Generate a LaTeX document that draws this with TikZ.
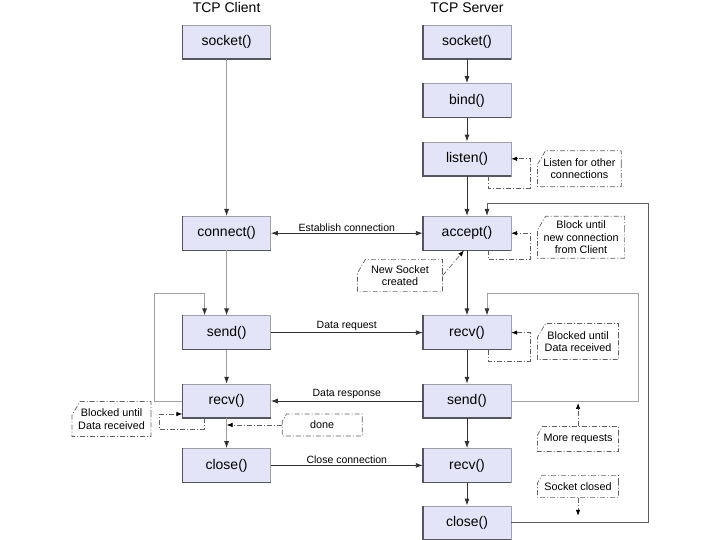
\documentclass[tikz,border=0pt]{standalone}
\usepackage{fontspec}
\setmainfont{Liberation Sans}
\usetikzlibrary{
  arrows.meta,
  positioning,
  shapes.misc,
  calc
}
\definecolor{boxfill}{RGB}{228,228,248}
\definecolor{boxline}{RGB}{160,160,170}
\definecolor{boxshade}{RGB}{85,85,95}
\definecolor{linedark}{RGB}{50,50,50}
\definecolor{linemid}{RGB}{95,95,95}
\definecolor{linelight}{RGB}{160,160,160}
\definecolor{notegray}{RGB}{95,95,95}

\begin{document}
\begin{tikzpicture}[
            fn/.style={draw=boxline, fill=boxfill, minimum width=88bp, minimum height=34bp, inner sep=0pt, font=\fontsize{14bp}{16bp}\selectfont},
            ttl/.style={inner sep=0pt, font=\fontsize{14bp}{16bp}\selectfont},
            msg/.style={inner sep=1.5bp, font=\fontsize{10.5bp}{12bp}\selectfont},
            memo/.style={draw=notegray, line width=0.7bp, dash pattern=on 5bp off 2bp on 1bp off 2bp, chamfered rectangle, chamfered rectangle corners=north west, chamfered rectangle angle=30, chamfered rectangle xsep=6bp, align=center, inner sep=0pt, font=\fontsize{10.8bp}{12.3bp}\selectfont},
            boxedge/.style={draw=boxshade, line width=1.4bp},
            dk/.style={draw=linedark, line width=0.9bp, -{Latex[length=7bp,width=5bp]}},
            dkm/.style={draw=linemid, line width=0.9bp, -{Latex[length=7bp,width=5bp,color=linedark]}},
            lt/.style={draw=linelight, line width=0.8bp, -{Latex[length=7bp,width=5bp,color=linedark]}},
            na/.style={draw=notegray, line width=0.7bp, dash pattern=on 5bp off 2bp on 1bp off 2bp, -{Latex[length=6bp,width=4.5bp,color=black]}}
        ]
            \useasboundingbox (0,0) rectangle (720bp,-540bp);
            % server side
            \node[fn] (ssock) at (467bp,-42bp) {socket()};
            \node[fn, below=24bp of ssock] (sbind) {bind()};
            \node[fn, below=24bp of sbind] (slisten) {listen()};
            \node[fn, below=40bp of slisten] (saccept) {accept()};
            \node[fn, below=65bp of saccept] (srecv) {recv()};
            \node[fn, below=34bp of srecv] (ssend) {send()};
            \node[fn, below=30bp of ssend] (srecvb) {recv()};
            \node[fn, below=23bp of srecvb] (sclose) {close()};
            % client side
            \node[fn, left=152bp of ssock] (csock) {socket()};
            \node[fn, left=152bp of saccept] (cconn) {connect()};
            \node[fn, left=152bp of srecv] (csend) {send()};
            \node[fn, left=152bp of ssend] (crecv) {recv()};
            \node[fn, left=152bp of srecvb] (cclose) {close()};
            \node[ttl, above=12bp of csock] (tcli) {TCP Client};
            \node[ttl, above=12bp of ssock] (tsrv) {TCP Server};
            \foreach \b in {ssock,sbind,slisten,saccept,srecv,ssend,srecvb,sclose,csock,cconn,csend,crecv,cclose}
              \draw[boxedge] (\b.north west) -- (\b.south west) -- (\b.south east);

            % notes
            \node[memo, minimum width=81bp, minimum height=36bp, right=26bp of slisten, yshift=-10bp] (nlisten) {Listen for other\\connections};
            \node[memo, minimum width=81bp, minimum height=42bp, right=26bp of saccept, yshift=-4bp] (naccept) {Block until\\new connection\\from Client};
            \node[memo, minimum width=81bp, minimum height=36bp, right=26bp of srecv, yshift=-9bp] (nrecv) {Blocked until\\Data received};
            \node[memo, minimum width=81bp, minimum height=25bp, right=26bp of ssend, yshift=-38bp] (nmore) {More requests};
            \node[memo, minimum width=81bp, minimum height=22bp, right=26bp of srecvb, yshift=-21bp] (nclosed) {Socket closed};
            \node[memo, minimum width=85bp, minimum height=32bp] (nsock) at ($(saccept.south)+(-67bp,-25bp)$) {New Socket\\created};
            \node[memo, minimum width=79bp, minimum height=35bp, left=31bp of crecv, yshift=-18bp] (ncrecv) {Blocked until\\Data received};
            \node[memo, minimum width=80bp, minimum height=22bp, right=11bp of crecv, yshift=-24bp] (ndone) {done};

            % calls in order
            \draw[dk] (ssock) -- (sbind);
            \draw[dk] (sbind) -- (slisten);
            \draw[dk] (slisten) -- (saccept);
            \draw[dk] (saccept) -- (srecv);
            \draw[dk] (srecv) -- (ssend);
            \draw[dk] (ssend) -- (srecvb);
            \draw[dk] (srecvb) -- (sclose);
            \draw[lt] (csock) -- (cconn);
            \draw[lt] (cconn) -- (csend);
            \draw[lt] (csend) -- (crecv);
            \draw[lt] (crecv) -- (cclose);

            % messages
            \draw[dk, {Latex[length=7bp,width=5bp]}-{Latex[length=7bp,width=5bp]}] (cconn) -- node[msg, above] {Establish connection} (saccept);
            \draw[dk] (csend) -- node[msg, above] {Data request} (srecv);
            \draw[dk] (ssend) -- node[msg, above] {Data response} (crecv);
            \draw[dk] (cclose) -- node[msg, above] {Close connection} (srecvb);

            % loops
            \draw[lt] (crecv.west) -- ++(-28bp,0) |- ($(csend.north)+(-22bp,22bp)$) -- ([xshift=-22bp]csend.north);
            \draw[lt] (ssend.east) -- ++(127bp,0) |- ($(srecv.north)+(20bp,22bp)$) -- ([xshift=20bp]srecv.north);
            \draw[dkm] (sclose.east) -- ++(137bp,0) |- ($(saccept.north)+(20bp,13bp)$) -- ([xshift=20bp]saccept.north);

            % note pointers
            \draw[na] ([xshift=21bp]slisten.south) |- ($(nlisten.south west)+(-7bp,-1bp)$) |- (slisten.east);
            \draw[na] ([xshift=21bp]saccept.south) |- ($(naccept.south west)+(-7bp,-1bp)$) |- (saccept.east);
            \draw[na] ([xshift=21bp]srecv.south) |- ($(nrecv.south west)+(-7bp,-1bp)$) |- (srecv.east);
            \draw[na] ([xshift=22bp]crecv.south west) |- ($(ncrecv.east)+(8bp,-10bp)$) |- ([yshift=-13bp]crecv.west);
            \draw[na] (ndone.west) -- (ndone.west -| crecv.south);
            \draw[na] (nmore.north) -- ([yshift=-2bp]nmore.north |- ssend.east);
            \draw[na] (nclosed.south) -- ([yshift=7bp]nclosed.south |- sclose.east);
            \draw[na] (nsock.east) -- ([xshift=-3bp]saccept.south);
        \end{tikzpicture}
\end{document}
